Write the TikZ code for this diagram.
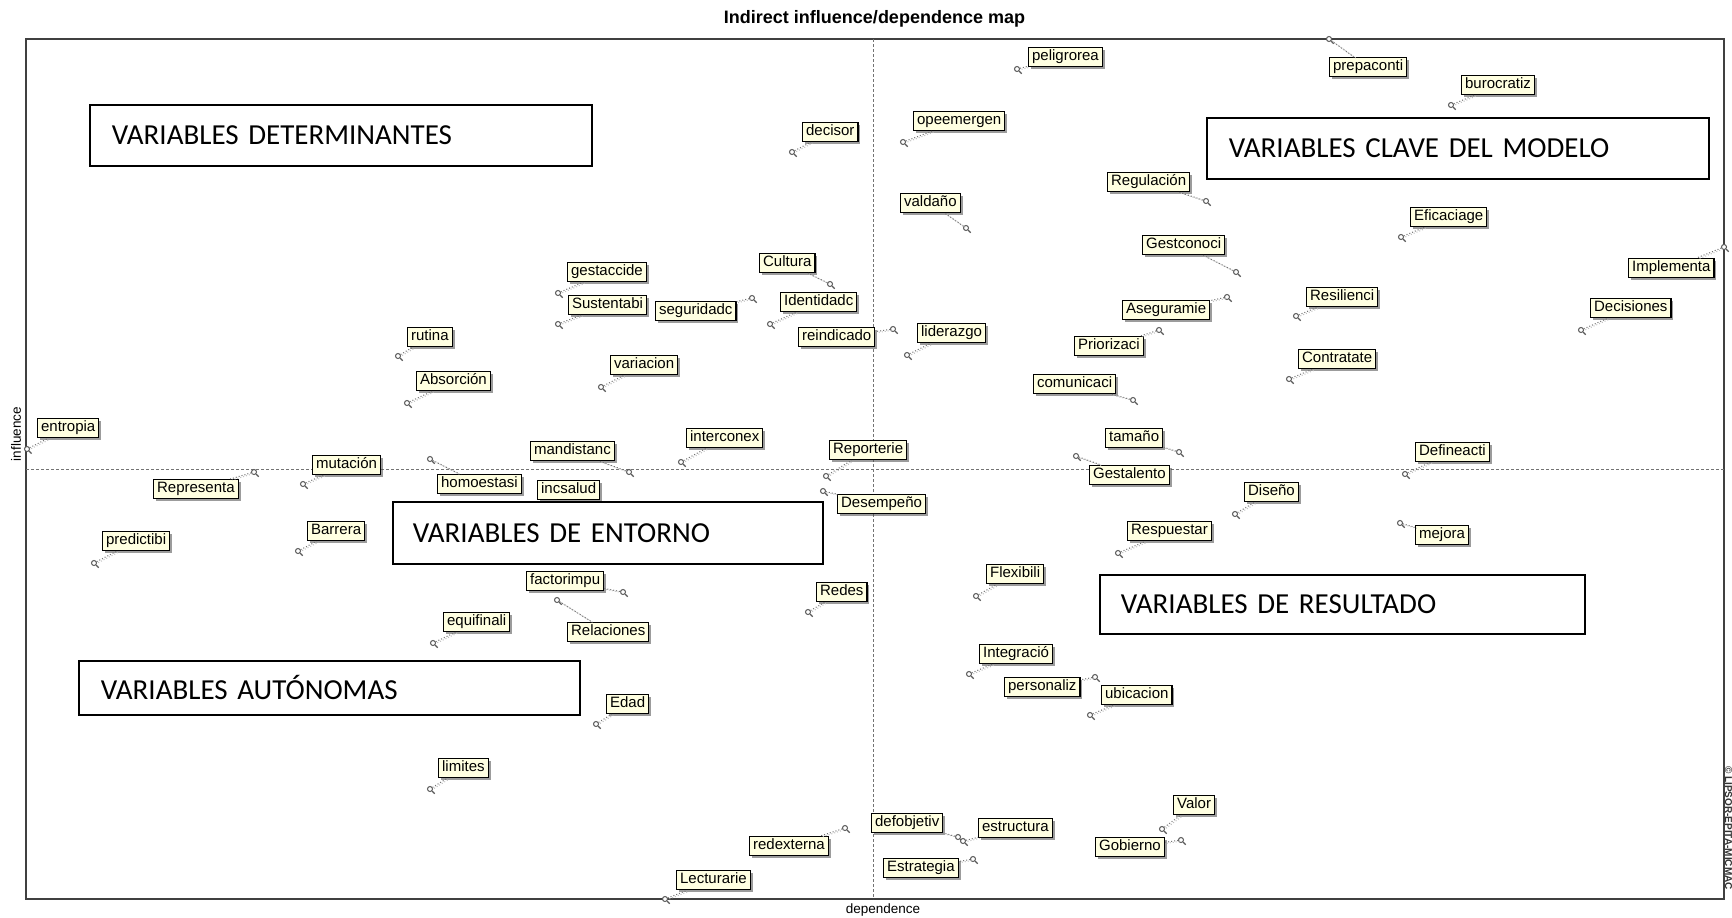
\documentclass[tikz,border=0pt]{standalone}
\usepackage{fontspec}
\setmainfont{Liberation Sans}
\newfontfamily\quadfont{Carlito}
\usetikzlibrary{shadows}

\definecolor{tipfill}{HTML}{FFFFE1}

\tikzset{
  vdot/.style={circle, draw=black!65, line width=1pt, inner sep=0pt, minimum size=5pt, fill=white},
  vtail/.style={draw=black!65, line width=1.1pt},
  vlab/.style={draw=black, line width=1.2pt, fill=tipfill, inner xsep=3.5pt, inner ysep=2.3pt,
    text height=11pt, text depth=3.5pt,
    drop shadow={shadow xshift=2.5pt, shadow yshift=-2.5pt, opacity=0.55, fill=black!70}},
  leader/.style={draw=black!55, dotted, line width=1pt},
  leadershade/.style={draw=black!25, dotted, line width=1pt, transform canvas={xshift=1.6pt, yshift=-1pt}},
  axisline/.style={draw=black!55, dash pattern=on 3pt off 2pt, line width=0.8pt},
  quadbox/.style={draw=black, line width=1.6pt, fill=white, anchor=north west, align=left,
    inner xsep=22pt, inner ysep=0pt, font=\quadfont\fontsize{29}{32}\selectfont},
}

% one variable: id, point x, point y, label north-west x, label north-west y, label text
\newcommand\mvar[6]{%
  \node[vdot] (d#1) at (#2,#3) {};
  \draw[vtail] (d#1.south east) -- ++(2.5,2.5);
  \node[vlab, anchor=north west] (l#1) at (#4,#5) {#6};
  \draw[leadershade] (d#1) -- (l#1);
  \draw[leader] (d#1) -- (l#1);
}

\begin{document}
\begin{tikzpicture}[x=1pt, y=-1pt, font=\fontsize{15}{18}\selectfont]
\useasboundingbox (0,0) rectangle (1732,918);
\fill[white] (0,0) rectangle (1732,918);

% plot frame and mean axes
\draw[line width=1.4pt, black!75] (26,39) rectangle (1724,899);
\draw[axisline] (26,469) -- (1724,469);
\draw[axisline] (873,39) -- (873,899);

% titles
\node[font=\bfseries\fontsize{18}{20}\selectfont] (title) at (874.5,18.5) {Indirect influence/dependence map};
\node[font=\fontsize{13.5}{15}\selectfont] (xlab) at (883,910) {dependence};
\node[font=\fontsize{13.5}{15}\selectfont, rotate=90] (ylab) at (16,434) {influence};
\node[font=\bfseries\fontsize{10}{11}\selectfont, text=black!80, rotate=-90] (wm) at (1728.5,828) {\textcopyright{} LIPSOR-EPITA-MICMAC};

% variables
\mvar{peligrorea}{1017}{69}{1028}{47}{peligrorea}
\mvar{prepaconti}{1329}{39}{1329}{57}{prepaconti}
\mvar{burocratiz}{1451}{105}{1461}{75}{burocratiz}
\mvar{decisor}{792}{152}{802}{122}{decisor}
\mvar{opeemergen}{903}{142}{913}{111}{opeemergen}
\mvar{regulacion}{1206}{201}{1107}{172}{Regulación}
\mvar{valdano}{966}{228}{900}{193}{valdaño}
\mvar{eficaciage}{1401}{237}{1410}{207}{Eficaciage}
\mvar{gestconoci}{1236}{272}{1142}{235}{Gestconoci}
\mvar{implementa}{1724}{247}{1628}{258}{Implementa}
\mvar{gestaccide}{558}{293}{567}{262}{gestaccide}
\mvar{cultura}{830}{284}{759}{253}{Cultura}
\mvar{sustentabi}{558}{324}{568}{295}{Sustentabi}
\mvar{seguridadc}{752}{298}{655}{301}{seguridadc}
\mvar{identidadc}{770}{324}{780}{292}{Identidadc}
\mvar{aseguramie}{1227}{297}{1122}{300}{Aseguramie}
\mvar{resilienci}{1296}{316}{1306}{287}{Resilienci}
\mvar{decisiones}{1581}{330}{1590}{298}{Decisiones}
\mvar{rutina}{398}{356}{407}{327}{rutina}
\mvar{absorcion}{407}{403}{416}{371}{Absorción}
\mvar{reindicado}{893}{329}{798}{327}{reindicado}
\mvar{liderazgo}{907}{355}{917}{323}{liderazgo}
\mvar{priorizaci}{1159}{330}{1074}{336}{Priorizaci}
\mvar{variacion}{601}{387}{610}{355}{variacion}
\mvar{comunicaci}{1133}{400}{1033}{374}{comunicaci}
\mvar{contratate}{1289}{379}{1298}{349}{Contratate}
\mvar{entropia}{27}{449}{37}{418}{entropia}
\mvar{interconex}{681}{462}{686}{428}{interconex}
\mvar{mandistanc}{629}{472}{530}{441}{mandistanc}
\mvar{reporterie}{826}{476}{829}{440}{Reporterie}
\mvar{tamano}{1179}{452}{1105}{428}{tamaño}
\mvar{defineacti}{1405}{474}{1415}{442}{Defineacti}
\mvar{mutacion}{303}{484}{312}{455}{mutación}
\mvar{representa}{254}{472}{153}{479}{Representa}
\mvar{homoestasi}{430}{459}{437}{474}{homoestasi}
\node[vlab, anchor=north west] (lincsalud) at (537,480) {incsalud};
\mvar{gestalento}{1076}{456}{1089}{465}{Gestalento}
\mvar{desempeno}{823}{491}{837}{494}{Desempeño}
\mvar{diseno}{1235}{514}{1244}{482}{Diseño}
\mvar{mejora}{1400}{523}{1415}{525}{mejora}
\mvar{predictibi}{94}{563}{102}{531}{predictibi}
\mvar{barrera}{298}{551}{307}{521}{Barrera}
\mvar{respuestar}{1118}{553}{1127}{521}{Respuestar}
\mvar{factorimpu}{623}{592}{526}{571}{factorimpu}
\mvar{redes}{808}{612}{816}{582}{Redes}
\mvar{flexibili}{976}{596}{986}{564}{Flexibili}
\mvar{equifinali}{433}{643}{443}{612}{equifinali}
\mvar{relaciones}{557}{600}{567}{622}{Relaciones}
\mvar{integracio}{969}{674}{979}{644}{Integració}
\mvar{personaliz}{1095}{677}{1004}{677}{personaliz}
\mvar{ubicacion}{1090}{715}{1101}{685}{ubicacion}
\mvar{edad}{596}{724}{606}{694}{Edad}
\mvar{limites}{430}{789}{438}{758}{limites}
\mvar{valor}{1162}{829}{1173}{795}{Valor}
\mvar{gobierno}{1181}{840}{1095}{837}{Gobierno}
\mvar{redexterna}{845}{828}{749}{836}{redexterna}
\mvar{defobjetiv}{958}{837}{871}{813}{defobjetiv}
\mvar{estructura}{963}{841}{978}{818}{estructura}
\mvar{estrategia}{973}{859}{883}{858}{Estrategia}
\mvar{lecturarie}{665}{899}{676}{870}{Lecturarie}

% quadrant captions
\node[quadbox, text width=458pt, minimum height=61pt] (qdet) at (89,104) {VARIABLES DETERMINANTES};
\node[quadbox, text width=458pt, minimum height=61pt] (qkey) at (1206,117) {VARIABLES CLAVE DEL MODELO};
\node[quadbox, inner xsep=20pt, text width=390pt, minimum height=62pt] (qenv) at (392,501) {VARIABLES DE ENTORNO};
\node[quadbox, inner xsep=21pt, text width=443pt, minimum height=59pt] (qres) at (1099,574) {VARIABLES DE RESULTADO};
\node[quadbox, text width=457pt, minimum height=54pt] (qaut) at (78,660) {VARIABLES AUTÓNOMAS};
\end{tikzpicture}
\end{document}
